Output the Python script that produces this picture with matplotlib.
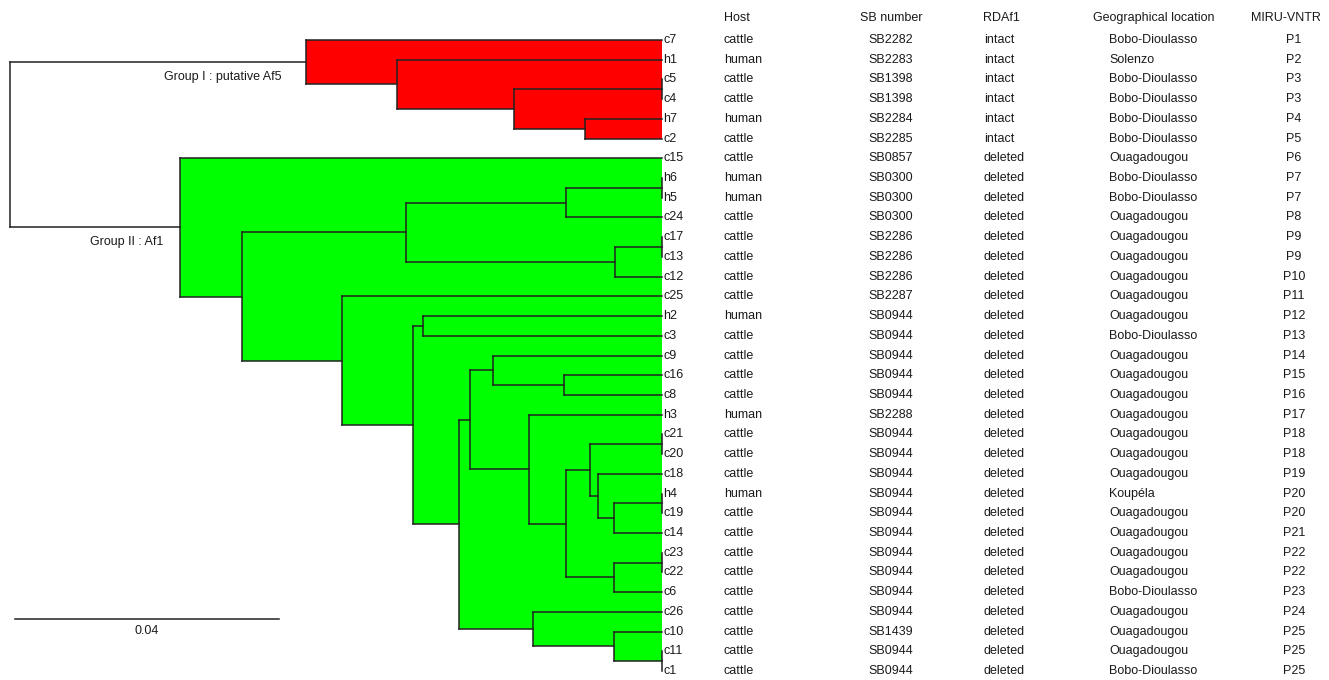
import matplotlib
matplotlib.use("Agg")
import matplotlib.pyplot as plt
from matplotlib.patches import Rectangle

plt.rcParams['font.family'] = ['Liberation Sans', 'DejaVu Sans']

# ---------------- data ----------------
leaves = ['c7', 'h1', 'c5', 'c4', 'h7', 'c2', 'c15', 'h6', 'h5', 'c24', 'c17', 'c13',
          'c12', 'c25', 'h2', 'c3', 'c9', 'c16', 'c8', 'h3', 'c21', 'c20', 'c18', 'h4',
          'c19', 'c14', 'c23', 'c22', 'c6', 'c26', 'c10', 'c11', 'c1']
host = ['cattle', 'human', 'cattle', 'cattle', 'human', 'cattle', 'cattle', 'human', 'human',
        'cattle', 'cattle', 'cattle', 'cattle', 'cattle', 'human', 'cattle', 'cattle', 'cattle',
        'cattle', 'human', 'cattle', 'cattle', 'cattle', 'human', 'cattle', 'cattle', 'cattle',
        'cattle', 'cattle', 'cattle', 'cattle', 'cattle', 'cattle']
sb_number = ['SB2282', 'SB2283', 'SB1398', 'SB1398', 'SB2284', 'SB2285', 'SB0857', 'SB0300',
             'SB0300', 'SB0300', 'SB2286', 'SB2286', 'SB2286', 'SB2287', 'SB0944', 'SB0944',
             'SB0944', 'SB0944', 'SB0944', 'SB2288', 'SB0944', 'SB0944', 'SB0944', 'SB0944',
             'SB0944', 'SB0944', 'SB0944', 'SB0944', 'SB0944', 'SB0944', 'SB1439', 'SB0944',
             'SB0944']
rdaf1 = ['intact'] * 6 + ['deleted'] * 27
location = ['Bobo-Dioulasso', 'Solenzo', 'Bobo-Dioulasso', 'Bobo-Dioulasso', 'Bobo-Dioulasso',
            'Bobo-Dioulasso', 'Ouagadougou', 'Bobo-Dioulasso', 'Bobo-Dioulasso', 'Ouagadougou',
            'Ouagadougou', 'Ouagadougou', 'Ouagadougou', 'Ouagadougou', 'Ouagadougou',
            'Bobo-Dioulasso', 'Ouagadougou', 'Ouagadougou', 'Ouagadougou', 'Ouagadougou',
            'Ouagadougou', 'Ouagadougou', 'Ouagadougou', 'Koupéla', 'Ouagadougou', 'Ouagadougou',
            'Ouagadougou', 'Ouagadougou', 'Bobo-Dioulasso', 'Ouagadougou', 'Ouagadougou',
            'Ouagadougou', 'Bobo-Dioulasso']
miru_vntr = ['P1', 'P2', 'P3', 'P3', 'P4', 'P5', 'P6', 'P7', 'P7', 'P8', 'P9', 'P9', 'P10',
             'P11', 'P12', 'P13', 'P14', 'P15', 'P16', 'P17', 'P18', 'P18', 'P19', 'P20', 'P20',
             'P21', 'P22', 'P22', 'P23', 'P24', 'P25', 'P25', 'P25']
headers = ['Host', 'SB number', 'RDAf1', 'Geographical location', 'MIRU-VNTR']

# merges: (name, child_a, child_b, height in distance units)
merges = [
    ('n0', 'c5', 'c4', 0.0),
    ('n1', 'h7', 'c2', 0.0117),
    ('n2', 'n0', 'n1', 0.0225),
    ('n3', 'h1', 'n2', 0.0402),
    ('n4', 'c7', 'n3', 0.0539),
    ('n5', 'h6', 'h5', 0.0),
    ('n6', 'n5', 'c24', 0.0145),
    ('n7', 'c17', 'c13', 0.0),
    ('n8', 'n7', 'c12', 0.0071),
    ('n9', 'n6', 'n8', 0.0388),
    ('n10', 'h2', 'c3', 0.0362),
    ('n11', 'c16', 'c8', 0.0148),
    ('n12', 'c9', 'n11', 0.0256),
    ('n13', 'c21', 'c20', 0.0),
    ('n14', 'h4', 'c19', 0.0),
    ('n15', 'n14', 'c14', 0.0073),
    ('n16', 'c18', 'n15', 0.0097),
    ('n17', 'n13', 'n16', 0.0109),
    ('n18', 'c23', 'c22', 0.0),
    ('n19', 'n18', 'c6', 0.0073),
    ('n20', 'n17', 'n19', 0.0145),
    ('n21', 'h3', 'n20', 0.0202),
    ('n22', 'n12', 'n21', 0.0291),
    ('n23', 'c11', 'c1', 0.0),
    ('n24', 'c10', 'n23', 0.0073),
    ('n25', 'c26', 'n24', 0.0195),
    ('n26', 'n22', 'n25', 0.0308),
    ('n27', 'n10', 'n26', 0.0377),
    ('n28', 'c25', 'n27', 0.0485),
    ('n29', 'n9', 'n28', 0.0636),
    ('n30', 'c15', 'n29', 0.0730),
    ('root', 'n4', 'n30', 0.0988),
]
group_roots = {'n4': '#ff0000', 'n30': '#00ff00'}
group_labels = ['Group I : putative Af5', 'Group II : Af1']
scale_value = 0.04

# ---------------- layout ----------------
W, H = 1329, 680
fig = plt.figure(figsize=(W / 100, H / 100), dpi=100)
ax = fig.add_axes([0, 0, 1, 1])
ax.set_axis_off()
px_per_unit = 264 / 0.04
leaf_px = 662
row0, row_h = 40, 19.72
ax.set_xlim(leaf_px / px_per_unit, (leaf_px - W) / px_per_unit)
ax.set_ylim((H - row0) / row_h, -row0 / row_h)

# node positions
ypos = {name: i for i, name in enumerate(leaves)}
xpos = {name: 0.0 for name in leaves}
children = {}
for name, a, b, h in merges:
    ypos[name] = (ypos[a] + ypos[b]) / 2
    xpos[name] = h
    children[name] = (a, b)

# colour assignment for internal nodes
node_color = {}
def paint(n, c):
    if n in children:
        node_color[n] = c
        for ch in children[n]:
            paint(ch, c)
for r, c in group_roots.items():
    paint(r, c)

# fills
for name, a, b, h in merges:
    c = node_color.get(name)
    if c is None:
        continue
    y0, y1 = sorted((ypos[a], ypos[b]))
    ax.add_patch(Rectangle((0, y0), h, y1 - y0, facecolor=c, edgecolor='none', zorder=1))

# lines
lc = '#222222'
lw = 1.1
for name, a, b, h in merges:
    ax.plot([h, h], [ypos[a], ypos[b]], color=lc, lw=lw, zorder=3, solid_capstyle='projecting')
    for ch in (a, b):
        ax.plot([h, xpos[ch]], [ypos[ch], ypos[ch]], color=lc, lw=lw, zorder=3,
                solid_capstyle='projecting')

# text columns
ytr = ax.get_yaxis_transform()
fs = 9
tc = '#1a1a1a'
for i, name in enumerate(leaves):
    ax.text(663 / W, i, name, transform=ytr, ha='left', va='center', fontsize=fs, color=tc)
    ax.text(724 / W, i, host[i], transform=ytr, ha='left', va='center', fontsize=fs, color=tc)
    ax.text(891 / W, i, sb_number[i], transform=ytr, ha='center', va='center', fontsize=fs, color=tc)
    ax.text(984 / W, i, rdaf1[i], transform=ytr, ha='left', va='center', fontsize=fs, color=tc)
    ax.text(1109 / W, i, location[i], transform=ytr, ha='left', va='center', fontsize=fs, color=tc)
    ax.text(1294 / W, i, miru_vntr[i], transform=ytr, ha='center', va='center', fontsize=fs, color=tc)

hy = (18 - row0) / row_h
ax.text(724 / W, hy, headers[0], transform=ytr, ha='left', va='center', fontsize=fs, color=tc)
ax.text(891 / W, hy, headers[1], transform=ytr, ha='center', va='center', fontsize=fs, color=tc)
ax.text(983 / W, hy, headers[2], transform=ytr, ha='left', va='center', fontsize=fs, color=tc)
ax.text(1093 / W, hy, headers[3], transform=ytr, ha='left', va='center', fontsize=fs, color=tc)
ax.text(1286 / W, hy, headers[4], transform=ytr, ha='center', va='center', fontsize=fs, color=tc)

# group labels
ax.text(281 / W, 1 - 77 / H, group_labels[0], transform=ax.transAxes, ha='right', va='center',
        fontsize=fs, color=tc)
ax.text(163 / W, 1 - 242 / H, group_labels[1], transform=ax.transAxes, ha='right', va='center',
        fontsize=fs, color=tc)

# scale bar
sb_x0 = (leaf_px - 15) / px_per_unit
sb_y = (619 - row0) / row_h
ax.plot([sb_x0, sb_x0 - scale_value], [sb_y, sb_y], color=lc, lw=lw)
ax.text(sb_x0 - scale_value / 2, (631 - row0) / row_h, f'{scale_value:g}', ha='center',
        va='center', fontsize=fs, color=tc)

fig.savefig('out.png', dpi=100, facecolor='white')
